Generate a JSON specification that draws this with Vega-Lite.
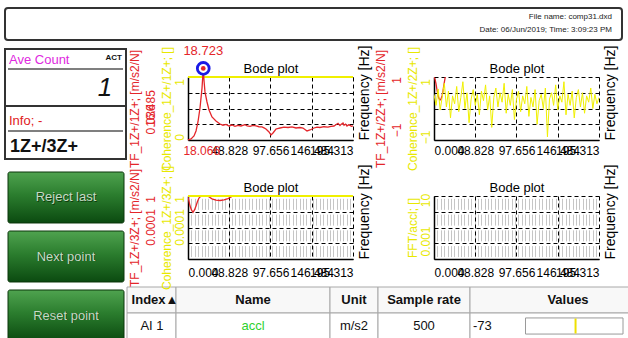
{
"$schema":"https://vega.github.io/schema/vega-lite/v6.json",
"background":"#ffffff",
"padding":{"left":4,"top":7,"right":0,"bottom":0},
"config":{
  "font":"Liberation Sans",
  "view":{"stroke":null},
  "axis":{"labelFont":"Liberation Sans Narrow, Arial Narrow, Liberation Sans, sans-serif","labelFontSize":12,"titleFont":"Liberation Sans, Arial, sans-serif","titleFontSize":12,"titleFontWeight":"normal","ticks":false,"labelOverlap":false,"labelColor":"#000000","titleColor":"#000000"}
},
"datasets":{
  "fileinfo":[{"row":1,"line":"File name: comp31.dxd"},{"row":2,"line":"Date: 06/Jun/2019; Time: 3:09:23 PM"}],
  "panels":[{"panel":"header"},{"panel":"count","label":"Ave Count","status":"ACT","value":"1"},{"panel":"info","label":"Info; -","value":"1Z+/3Z+"}],
  "buttons":[{"label":"Reject last"},{"label":"Next point"},{"label":"Reset point"}],
  "cells":[
    {"col":"Index","row":"header","text":"Index▲"},{"col":"Index","row":"value","text":"AI 1"},
    {"col":"Name","row":"header","text":"Name"},{"col":"Name","row":"value","text":"accl"},
    {"col":"Unit","row":"header","text":"Unit"},{"col":"Unit","row":"value","text":"m/s2"},
    {"col":"Sample rate","row":"header","text":"Sample rate"},{"col":"Sample rate","row":"value","text":"500"},
    {"col":"Values","row":"header","text":"Values"},{"col":"Values","row":"value","text":"-73","reading":-73}
  ],
  "tl_tf":[
    {"f":0,"v":0.04},{"f":3.55,"v":0.3},{"f":7.1,"v":1.08},{"f":9.5,"v":2.39},{"f":11.8,"v":4.74},{"f":14.2,"v":8.39},{"f":15.4,"v":11.0},{"f":16.6,"v":13.6},{"f":18.066,"v":18.723},{"f":18.9,"v":15.7},{"f":20.1,"v":12.6},{"f":22.5,"v":9.96},{"f":24.9,"v":7.87},{"f":28.4,"v":6.04},{"f":33.1,"v":5.0},{"f":37.9,"v":4.21},{"f":41.4,"v":3.9},{"f":45.0,"v":4.1},{"f":48.5,"v":3.7},{"f":52.1,"v":3.95},{"f":55.6,"v":3.6},{"f":59.2,"v":3.85},{"f":62.7,"v":3.7},{"f":67.5,"v":4.05},{"f":70.0,"v":3.75},{"f":73.4,"v":3.6},{"f":77.0,"v":3.85},{"f":80.5,"v":3.7},{"f":84.0,"v":3.5},{"f":87.6,"v":3.45},{"f":90.0,"v":3.2},{"f":92.3,"v":2.91},{"f":95.9,"v":2.12},{"f":98.2,"v":1.34},{"f":100.6,"v":1.86},{"f":104.2,"v":2.91},{"f":108.9,"v":3.17},{"f":113.6,"v":3.4},{"f":118.4,"v":3.3},{"f":123.1,"v":3.45},{"f":127.8,"v":3.17},{"f":132.5,"v":3.3},{"f":136.1,"v":3.17},{"f":140.9,"v":2.39},{"f":144.4,"v":2.65},{"f":149.1,"v":3.17},{"f":152.7,"v":3.4},{"f":156.2,"v":3.3},{"f":160.9,"v":3.5},{"f":165.7,"v":3.4},{"f":169.2,"v":3.6},{"f":172.8,"v":3.69},{"f":175.1,"v":4.0},{"f":177.6,"v":4.4},{"f":179.9,"v":3.8},{"f":181.1,"v":4.1},{"f":183.5,"v":4.5},{"f":184.7,"v":3.9},{"f":186.6,"v":4.2},{"f":188.2,"v":3.69},{"f":190.0,"v":4.0},{"f":191.8,"v":3.85},{"f":193.5,"v":3.6},{"f":195.313,"v":3.75}
  ],
  "tl_cursor":[{"f":18.066,"v":18.723}],
  "tl_coh":[{"f":0,"c":1},{"f":195.313,"c":1}],
  "tr_tf":[{"f":0,"v":1.0},{"f":1.2,"v":0.93},{"f":2.4,"v":0.78},{"f":3.6,"v":0.58},{"f":4.7,"v":0.42},{"f":5.9,"v":0.32},{"f":7.1,"v":0.27},{"f":8.3,"v":0.3},{"f":9.5,"v":0.4},{"f":10.7,"v":0.56},{"f":11.8,"v":0.77},{"f":13.0,"v":0.95},{"f":14.2,"v":1.15}],
  "tr_coh":[
    {"f":0,"c":0.45},{"f":2.44,"c":0.1},{"f":4.88,"c":0.62},{"f":7.32,"c":-0.05},{"f":9.77,"c":0.38},{"f":12.21,"c":0.8},{"f":14.65,"c":0.05},{"f":17.09,"c":0.55},{"f":19.53,"c":-0.3},{"f":21.97,"c":0.4},
    {"f":24.41,"c":0.15},{"f":26.86,"c":0.7},{"f":29.3,"c":-0.1},{"f":31.74,"c":0.35},{"f":34.18,"c":0.85},{"f":36.62,"c":0.0},{"f":39.06,"c":0.5},{"f":41.5,"c":-0.45},{"f":43.95,"c":0.3},{"f":46.39,"c":0.6},
    {"f":48.83,"c":0.1},{"f":51.27,"c":0.45},{"f":53.71,"c":-0.2},{"f":56.15,"c":0.55},{"f":58.59,"c":0.25},{"f":61.04,"c":0.75},{"f":63.48,"c":-0.05},{"f":65.92,"c":0.4},{"f":68.36,"c":-0.6},{"f":70.8,"c":0.35},
    {"f":73.24,"c":0.65},{"f":75.68,"c":0.05},{"f":78.13,"c":0.5},{"f":80.57,"c":0.2},{"f":83.01,"c":0.8},{"f":85.45,"c":-0.15},{"f":87.89,"c":0.45},{"f":90.33,"c":0.1},{"f":92.77,"c":0.6},{"f":95.21,"c":-0.35},
    {"f":97.66,"c":0.3},{"f":100.1,"c":0.55},{"f":102.54,"c":-0.1},{"f":104.98,"c":0.4},{"f":107.42,"c":0.15},{"f":109.86,"c":0.7},{"f":112.3,"c":-0.25},{"f":114.75,"c":0.35},{"f":117.19,"c":0.05},{"f":119.63,"c":0.6},
    {"f":122.07,"c":-0.5},{"f":124.51,"c":0.25},{"f":126.95,"c":0.45},{"f":129.39,"c":0.0},{"f":131.84,"c":0.65},{"f":134.28,"c":-0.9},{"f":136.72,"c":0.3},{"f":139.16,"c":0.5},{"f":141.6,"c":0.1},{"f":144.04,"c":0.75},
    {"f":146.48,"c":-0.05},{"f":148.93,"c":0.4},{"f":151.37,"c":0.2},{"f":153.81,"c":0.85},{"f":156.25,"c":-0.2},{"f":158.69,"c":0.45},{"f":161.13,"c":0.1},{"f":163.57,"c":0.55},{"f":166.02,"c":-0.3},{"f":168.46,"c":0.35},
    {"f":170.9,"c":0.6},{"f":173.34,"c":0.05},{"f":175.78,"c":0.5},{"f":178.22,"c":-0.15},{"f":180.66,"c":0.4},{"f":183.11,"c":0.2},{"f":185.55,"c":0.65},{"f":187.99,"c":0.0},{"f":190.43,"c":0.45},{"f":192.87,"c":0.15},{"f":195.31,"c":0.35}
  ],
  "bl_tf":[{"f":0,"v":0.85},{"f":1.2,"v":0.45},{"f":2.4,"v":0.23},{"f":4.1,"v":0.13},{"f":5.9,"v":0.093},{"f":7.7,"v":0.13},{"f":9.5,"v":0.23},{"f":11.2,"v":0.45},{"f":13.0,"v":0.74},{"f":15.4,"v":0.98},{"f":20.0,"v":1.0},{"f":23.7,"v":0.97},{"f":26.0,"v":0.8},{"f":28.4,"v":0.66},{"f":33.1,"v":0.55},{"f":37.9,"v":0.52},{"f":42.6,"v":0.56},{"f":47.3,"v":0.68},{"f":51.0,"v":0.86},{"f":53.3,"v":1.0}],
  "bl_coh":[{"f":0,"c":1},{"f":195.313,"c":1}],
  "br_fft":[]
},
"bounds":"flush",
"align":"each",
"columns":3,
"spacing":{"row":56,"column":81},
"concat":[
  {"width":102,"height":63,
   "layer":[
    {"data":{"name":"panels"},"transform":[{"filter":"datum.panel == 'header'"}],"mark":{"type":"rect","fill":"#ffffff","fillOpacity":0,"stroke":"#333333","strokeWidth":2,"cornerRadius":3},"encoding":{"x":{"value":0},"x2":{"value":617},"y":{"value":-69},"y2":{"value":-37}}},
    {"data":{"name":"fileinfo"},"mark":{"type":"text","align":"right","baseline":"middle","fontSize":8,"color":"#222222"},"encoding":{"x":{"value":607},"y":{"field":"row","type":"ordinal","axis":null,"scale":{"type":"point","range":[-60,-47],"padding":0}},"text":{"field":"line"}}},
    {"data":{"name":"panels"},"transform":[{"filter":"datum.panel == 'count'"}],
     "layer":[
      {"mark":{"type":"rect","fill":"#ffffff","fillOpacity":0,"stroke":"#333333","strokeWidth":2},"encoding":{"x":{"value":0},"x2":{"value":121},"y":{"value":-28},"y2":{"value":29}}},
      {"mark":{"type":"text","align":"left","baseline":"middle","font":"Liberation Sans Narrow, Arial Narrow, Liberation Sans, sans-serif","fontSize":13,"color":"#e028e0"},"encoding":{"x":{"value":4},"y":{"value":-17},"text":{"field":"label"}}},
      {"mark":{"type":"text","align":"right","baseline":"middle","fontSize":8,"fontWeight":"bold","color":"#111111"},"encoding":{"x":{"value":117},"y":{"value":-19},"text":{"field":"status"}}},
      {"mark":{"type":"rule","color":"#555555","strokeWidth":1.5},"encoding":{"x":{"value":3},"x2":{"value":118},"y":{"value":-8}}},
      {"mark":{"type":"text","align":"center","baseline":"middle","font":"Liberation Sans Narrow, Arial Narrow, Liberation Sans, sans-serif","fontSize":26,"fontStyle":"italic","color":"#111111"},"encoding":{"x":{"value":100},"y":{"value":11},"text":{"field":"value"}}}
     ]},
    {"data":{"name":"panels"},"transform":[{"filter":"datum.panel == 'info'"}],
     "layer":[
      {"mark":{"type":"rect","fill":"#ffffff","fillOpacity":0,"stroke":"#333333","strokeWidth":2},"encoding":{"x":{"value":0},"x2":{"value":121},"y":{"value":29},"y2":{"value":82}}},
      {"mark":{"type":"text","align":"left","baseline":"middle","font":"Liberation Sans Narrow, Arial Narrow, Liberation Sans, sans-serif","fontSize":13,"color":"#e02020"},"encoding":{"x":{"value":4},"y":{"value":44},"text":{"field":"label"}}},
      {"mark":{"type":"rule","color":"#555555","strokeWidth":1.5},"encoding":{"x":{"value":3},"x2":{"value":118},"y":{"value":54}}},
      {"mark":{"type":"text","align":"left","baseline":"middle","font":"Liberation Sans Narrow, Arial Narrow, Liberation Sans, sans-serif","fontSize":18,"fontWeight":"bold","color":"#111111"},"encoding":{"x":{"value":5},"y":{"value":70},"text":{"field":"value"}}}
     ]},
    {"data":{"name":"buttons"},
     "layer":[
      {"mark":{"type":"rect","fill":{"gradient":"linear","x1":0,"y1":0,"x2":0,"y2":1,"stops":[{"offset":0,"color":"#4fa34f"},{"offset":0.45,"color":"#2b7d2e"},{"offset":1,"color":"#0b4a10"}]},"stroke":"#0a360a","strokeWidth":1,"cornerRadius":2},
       "encoding":{"x":{"value":3},"x2":{"value":119},"y":{"field":"label","type":"nominal","axis":null,"scale":{"domain":["Reject last","Next point","Reset point"],"range":[95,264],"paddingInner":0.1356,"paddingOuter":0}}}},
      {"mark":{"type":"text","align":"center","baseline":"middle","font":"Liberation Sans Narrow, Arial Narrow, Liberation Sans, sans-serif","fontSize":13,"color":"#0d3d0d","dx":0.8,"dy":0.8},"encoding":{"x":{"value":61},"y":{"field":"label","type":"nominal","axis":null},"text":{"field":"label"}}},
      {"mark":{"type":"text","align":"center","baseline":"middle","font":"Liberation Sans Narrow, Arial Narrow, Liberation Sans, sans-serif","fontSize":13,"color":"#c6dac6"},"encoding":{"x":{"value":61},"y":{"field":"label","type":"nominal","axis":null},"text":{"field":"label"}}}
     ]}
   ],
   "resolve":{"scale":{"y":"independent"}}},
  {"width":165,"height":63,
   "layer":[
    {"data":{"name":"br_fft"},"mark":{"type":"line"},
     "encoding":{"x":{"field":"f","type":"quantitative","scale":{"domain":[0,195.313],"nice":false,"zero":false},"axis":{"orient":"top","title":"Bode plot","labels":false,"domain":false,"grid":false,"titlePadding":2,"titleFont":"Liberation Sans Narrow, Arial Narrow, Liberation Sans, sans-serif","titleFontSize":13}},
                 "y":{"field":"v","type":"quantitative","axis":null}}},
    {"data":{"name":"tl_coh"},"mark":{"type":"line","color":"#f0f000","strokeWidth":2,"clip":false},
     "encoding":{
      "x":{"field":"f","type":"quantitative","scale":{"domain":[0,195.313],"nice":false,"zero":false},
           "axis":{"orient":"bottom","title":"Frequency [Hz]","values":[0,48.828,97.656,146.484,195.313],"format":".3f","labelExpr":"datum.value == 0 ? '' : datum.label","labelFlush":true,"grid":true,"gridColor":"#000000","gridDash":[4,3],"gridWidth":1,"domain":true,"domainColor":"#000000","domainWidth":1.5,"labelPadding":5,"titleFontSize":14,"titleAngle":270,"titleAlign":"left","titleBaseline":"middle","titleX":176,"titleY":0}},
      "y":{"field":"c","type":"quantitative","scale":{"domain":[0,1],"nice":false,"zero":false},
           "axis":{"title":"Coherence_1Z+/1Z+; []","orient":"left","values":[0,0.25,0.5,0.75,1],"format":"~g","labelExpr":"datum.value == 0 || datum.value == 1 ? datum.label : ''","grid":true,"gridColor":"#000000","gridDash":[4,3],"gridWidth":1,"domain":true,"domainColor":"#000000","domainWidth":1.5,"labelAngle":270,"labelAlign":"center","labelBaseline":"bottom","labelPadding":2,"labelColor":"#e8e800","labelOffset":{"condition":{"test":"datum.value == 0","value":-3},"value":5},"titleColor":"#e8e800","titlePadding":0}}}},
    {"layer":[
      {"data":{"name":"tl_tf"},"mark":{"type":"line","color":"#e4252a","strokeWidth":1.3,"clip":false},
       "encoding":{
        "x":{"field":"f","type":"quantitative","scale":{"domain":[0,195.313],"nice":false,"zero":false},
             "axis":{"orient":"bottom","values":[18.066],"format":".3f","labelColor":"#e4252a","labelPadding":5,"labelOffset":-2,"labelFlush":false,"domain":false,"grid":false,"title":null}},
        "y":{"field":"v","type":"quantitative","scale":{"domain":[0.036,16.485],"nice":false,"zero":false},
             "axis":{"title":"TF_1Z+/1Z+; [m/s2/N]","orient":"left","offset":29,"values":[0.036,16.485],"format":".3f","domain":false,"grid":false,"labelAngle":270,"labelAlign":"center","labelBaseline":"bottom","labelPadding":2,"labelColor":"#e4252a","labelOffset":{"condition":{"test":"datum.value < 1","value":-21},"value":31},"titleColor":"#e4252a","titlePadding":3}}}},
      {"data":{"name":"tl_cursor"},"mark":{"type":"point","shape":"circle","size":140,"filled":true,"fill":"#ffffff","stroke":"#1a1ae6","strokeWidth":2.8,"opacity":1,"clip":false},
       "encoding":{"x":{"field":"f","type":"quantitative","scale":{"domain":[0,195.313],"nice":false,"zero":false}},"y":{"field":"v","type":"quantitative","scale":{"domain":[0.036,16.485],"nice":false,"zero":false}}}},
      {"data":{"name":"tl_cursor"},"mark":{"type":"circle","size":22,"color":"#e4252a","opacity":1,"clip":false},
       "encoding":{"x":{"field":"f","type":"quantitative","scale":{"domain":[0,195.313],"nice":false,"zero":false}},"y":{"field":"v","type":"quantitative","scale":{"domain":[0.036,16.485],"nice":false,"zero":false}}}},
      {"data":{"name":"tl_cursor"},"mark":{"type":"text","dy":-17,"baseline":"middle","color":"#e4252a","font":"Liberation Sans Narrow, Arial Narrow, Liberation Sans, sans-serif","fontSize":13,"clip":false},
       "encoding":{"x":{"field":"f","type":"quantitative","scale":{"domain":[0,195.313],"nice":false,"zero":false}},"y":{"field":"v","type":"quantitative","scale":{"domain":[0.036,16.485],"nice":false,"zero":false}},"text":{"field":"v","type":"quantitative","format":".3f"}}}
    ]}
   ],
   "resolve":{"scale":{"y":"independent"},"axis":{"x":"independent","y":"independent"}}},
  {"width":165,"height":63,
   "layer":[
    {"data":{"name":"tr_tf"},"mark":{"type":"line","color":"#e4252a","strokeWidth":1.3,"clip":true},
     "encoding":{
      "x":{"field":"f","type":"quantitative","scale":{"domain":[0,195.313],"nice":false,"zero":false},"axis":{"orient":"top","title":"Bode plot","labels":false,"domain":false,"grid":false,"titlePadding":2,"titleFont":"Liberation Sans Narrow, Arial Narrow, Liberation Sans, sans-serif","titleFontSize":13}},
      "y":{"field":"v","type":"quantitative","scale":{"domain":[-1,1],"nice":false,"zero":false},
           "axis":{"title":"TF_1Z+/2Z+; [m/s2/N]","orient":"left","offset":29,"values":[-1,1],"format":"~g","domain":false,"grid":false,"labelAngle":270,"labelAlign":"center","labelBaseline":"bottom","labelPadding":2,"labelColor":"#e4252a","labelOffset":{"condition":{"test":"datum.value > 0","value":3},"value":-10},"titleColor":"#e4252a","titlePadding":3}}}},
    {"data":{"name":"tr_coh"},"mark":{"type":"line","color":"#f0f000","strokeWidth":1,"clip":true},
     "encoding":{
      "x":{"field":"f","type":"quantitative","scale":{"domain":[0,195.313],"nice":false,"zero":false},
           "axis":{"orient":"bottom","title":"Frequency [Hz]","values":[0,48.828,97.656,146.484,195.313],"format":".3f","labelFlush":true,"grid":true,"gridColor":"#000000","gridDash":[4,3],"gridWidth":1,"domain":true,"domainColor":"#000000","domainWidth":1.5,"labelPadding":5,"titleFontSize":14,"titleAngle":270,"titleAlign":"left","titleBaseline":"middle","titleX":176,"titleY":0}},
      "y":{"field":"c","type":"quantitative","scale":{"domain":[-1,1],"nice":false,"zero":false},
           "axis":{"title":"Coherence_1Z+/2Z+; []","orient":"left","values":[-1,-0.5,0,0.5,1],"format":"~g","labelExpr":"abs(datum.value) == 1 ? datum.label : ''","grid":true,"gridColor":"#000000","gridDash":[4,3],"gridWidth":1,"domain":true,"domainColor":"#000000","domainWidth":1.5,"labelAngle":270,"labelAlign":"center","labelBaseline":"bottom","labelPadding":2,"labelColor":"#e8e800","labelOffset":{"condition":{"test":"datum.value > 0","value":5},"value":-3},"titleColor":"#e8e800","titlePadding":0}}}}
   ],
   "resolve":{"scale":{"y":"independent"},"axis":{"x":"independent","y":"independent"}}},
  {"width":102,"height":63,
   "data":{"name":"cells"},
   "layer":[
    {"transform":[{"filter":"datum.col == 'Index'"}],"mark":{"type":"rect","stroke":"#a8a8a8","strokeWidth":1},"encoding":{"x":{"value":122},"x2":{"value":171},"y":{"field":"row","type":"nominal","axis":null,"scale":{"domain":["header","value"],"range":[91,143],"paddingInner":0,"paddingOuter":0}},"fill":{"condition":{"test":"datum.row == 'header'","value":"#f8f8f8"},"value":"#ffffff"}}},
    {"transform":[{"filter":"datum.col == 'Name'"}],"mark":{"type":"rect","stroke":"#a8a8a8","strokeWidth":1},"encoding":{"x":{"value":171},"x2":{"value":325},"y":{"field":"row","type":"nominal"},"fill":{"condition":{"test":"datum.row == 'header'","value":"#f8f8f8"},"value":"#ffffff"}}},
    {"transform":[{"filter":"datum.col == 'Unit'"}],"mark":{"type":"rect","stroke":"#a8a8a8","strokeWidth":1},"encoding":{"x":{"value":325},"x2":{"value":373},"y":{"field":"row","type":"nominal"},"fill":{"condition":{"test":"datum.row == 'header'","value":"#f8f8f8"},"value":"#ffffff"}}},
    {"transform":[{"filter":"datum.col == 'Sample rate'"}],"mark":{"type":"rect","stroke":"#a8a8a8","strokeWidth":1},"encoding":{"x":{"value":373},"x2":{"value":465},"y":{"field":"row","type":"nominal"},"fill":{"condition":{"test":"datum.row == 'header'","value":"#f8f8f8"},"value":"#ffffff"}}},
    {"transform":[{"filter":"datum.col == 'Values'"}],"mark":{"type":"rect","stroke":"#a8a8a8","strokeWidth":1},"encoding":{"x":{"value":465},"x2":{"value":655},"y":{"field":"row","type":"nominal"},"fill":{"condition":{"test":"datum.row == 'header'","value":"#f8f8f8"},"value":"#ffffff"}}},
    {"transform":[{"filter":"datum.col == 'Index' && datum.row == 'header'"}],"mark":{"type":"text","align":"center","baseline":"middle","font":"Liberation Sans Narrow, Arial Narrow, Liberation Sans, sans-serif","fontSize":13,"fontWeight":"bold","color":"#111111"},"encoding":{"x":{"value":150},"y":{"field":"row","type":"nominal"},"text":{"field":"text"}}},
    {"transform":[{"filter":"datum.col == 'Index' && datum.row == 'value'"}],"mark":{"type":"text","align":"center","baseline":"middle","font":"Liberation Sans Narrow, Arial Narrow, Liberation Sans, sans-serif","fontSize":13,"color":"#111111"},"encoding":{"x":{"value":147},"y":{"field":"row","type":"nominal"},"text":{"field":"text"}}},
    {"transform":[{"filter":"datum.col == 'Name' && datum.row == 'header'"}],"mark":{"type":"text","align":"center","baseline":"middle","font":"Liberation Sans Narrow, Arial Narrow, Liberation Sans, sans-serif","fontSize":13,"fontWeight":"bold","color":"#111111"},"encoding":{"x":{"value":248},"y":{"field":"row","type":"nominal"},"text":{"field":"text"}}},
    {"transform":[{"filter":"datum.col == 'Name' && datum.row == 'value'"}],"mark":{"type":"text","align":"center","baseline":"middle","font":"Liberation Sans Narrow, Arial Narrow, Liberation Sans, sans-serif","fontSize":13,"color":"#2ed12e"},"encoding":{"x":{"value":248},"y":{"field":"row","type":"nominal"},"text":{"field":"text"}}},
    {"transform":[{"filter":"datum.col == 'Unit' && datum.row == 'header'"}],"mark":{"type":"text","align":"center","baseline":"middle","font":"Liberation Sans Narrow, Arial Narrow, Liberation Sans, sans-serif","fontSize":13,"fontWeight":"bold","color":"#111111"},"encoding":{"x":{"value":349},"y":{"field":"row","type":"nominal"},"text":{"field":"text"}}},
    {"transform":[{"filter":"datum.col == 'Unit' && datum.row == 'value'"}],"mark":{"type":"text","align":"center","baseline":"middle","font":"Liberation Sans Narrow, Arial Narrow, Liberation Sans, sans-serif","fontSize":13,"color":"#111111"},"encoding":{"x":{"value":349},"y":{"field":"row","type":"nominal"},"text":{"field":"text"}}},
    {"transform":[{"filter":"datum.col == 'Sample rate' && datum.row == 'header'"}],"mark":{"type":"text","align":"center","baseline":"middle","font":"Liberation Sans Narrow, Arial Narrow, Liberation Sans, sans-serif","fontSize":13,"fontWeight":"bold","color":"#111111"},"encoding":{"x":{"value":419},"y":{"field":"row","type":"nominal"},"text":{"field":"text"}}},
    {"transform":[{"filter":"datum.col == 'Sample rate' && datum.row == 'value'"}],"mark":{"type":"text","align":"center","baseline":"middle","font":"Liberation Sans Narrow, Arial Narrow, Liberation Sans, sans-serif","fontSize":13,"color":"#111111"},"encoding":{"x":{"value":419},"y":{"field":"row","type":"nominal"},"text":{"field":"text"}}},
    {"transform":[{"filter":"datum.col == 'Values' && datum.row == 'header'"}],"mark":{"type":"text","align":"center","baseline":"middle","font":"Liberation Sans Narrow, Arial Narrow, Liberation Sans, sans-serif","fontSize":13,"fontWeight":"bold","color":"#111111"},"encoding":{"x":{"value":563},"y":{"field":"row","type":"nominal"},"text":{"field":"text"}}},
    {"transform":[{"filter":"datum.col == 'Values' && datum.row == 'value'"}],"mark":{"type":"text","align":"left","baseline":"middle","font":"Liberation Sans Narrow, Arial Narrow, Liberation Sans, sans-serif","fontSize":13,"color":"#111111"},"encoding":{"x":{"value":468},"y":{"field":"row","type":"nominal"},"text":{"field":"text"}}},
    {"transform":[{"filter":"datum.col == 'Values' && datum.row == 'value'"}],"mark":{"type":"bar","height":{"band":0.62},"fill":"#ffffff","stroke":"#9a9a9a","strokeWidth":1},"encoding":{"x":{"datum":-150,"type":"quantitative","scale":{"domain":[-150,0],"range":[514,618]},"axis":null},"x2":{"datum":0},"y":{"field":"row","type":"nominal"}}},
    {"transform":[{"filter":"datum.col == 'Values' && datum.row == 'value'"}],"mark":{"type":"tick","orient":"vertical","color":"#eee000","thickness":2,"size":15,"opacity":1},"encoding":{"x":{"field":"reading","type":"quantitative"},"y":{"field":"row","type":"nominal"}}}
   ]},
  {"width":165,"height":63,
   "layer":[
    {"data":{"name":"br_fft"},"mark":{"type":"line"},
     "encoding":{"x":{"field":"f","type":"quantitative","scale":{"domain":[0,195.313],"nice":false,"zero":false},"axis":{"orient":"top","title":"Bode plot","labels":false,"domain":false,"grid":false,"titlePadding":2,"titleFont":"Liberation Sans Narrow, Arial Narrow, Liberation Sans, sans-serif","titleFontSize":13}},
                 "y":{"field":"v","type":"quantitative","axis":null}}},
    {"data":{"name":"bl_tf"},"mark":{"type":"line","color":"#e4252a","strokeWidth":1.3,"clip":true},
     "encoding":{
      "x":{"field":"f","type":"quantitative","scale":{"domain":[0,195.313],"nice":false,"zero":false},
           "axis":{"orient":"bottom","values":[0,4,8,12,16,20,24,28,32,36,40,44,48,52,56,60,64,68,72,76,80,84,88,92,96,100,104,108,112,116,120,124,128,132,136,140,144,148,152,156,160,164,168,172,176,180,184,188,192],"grid":true,"gridColor":"#c6c6c6","gridDash":[11,4.75],"gridDashOffset":13.4,"gridWidth":1,"labels":false,"domain":false,"title":null}},
      "y":{"field":"v","type":"quantitative","scale":{"type":"log","domain":[0.0001,1],"nice":false},
           "axis":{"title":"TF_1Z+/3Z+; [m/s2/N]","orient":"left","offset":29,"values":[0.0001,1],"format":"~g","domain":false,"grid":false,"labelAngle":270,"labelAlign":"center","labelBaseline":"bottom","labelPadding":2,"labelColor":"#e4252a","labelOffset":{"condition":{"test":"datum.value >= 1","value":3},"value":-32},"titleColor":"#e4252a","titlePadding":3}}}},
    {"data":{"name":"bl_coh"},"mark":{"type":"line","color":"#f0f000","strokeWidth":2,"clip":false},
     "encoding":{
      "x":{"field":"f","type":"quantitative","scale":{"domain":[0,195.313],"nice":false,"zero":false},
           "axis":{"orient":"bottom","title":"Frequency [Hz]","values":[0,48.828,97.656,146.484,195.313],"format":".3f","labelFlush":true,"grid":true,"gridColor":"#000000","gridDash":[4,3],"gridWidth":1,"domain":true,"domainColor":"#000000","domainWidth":1.5,"labelPadding":8,"titleFontSize":14,"titleAngle":270,"titleAlign":"left","titleBaseline":"middle","titleX":176,"titleY":0}},
      "y":{"field":"c","type":"quantitative","scale":{"type":"log","domain":[0.0001,1],"nice":false},
           "axis":{"title":"Coherence_1Z+/3Z+; []","orient":"left","values":[0.0001,0.001,0.01,0.1,1],"format":"~g","labelExpr":"datum.value == 0.0001 || datum.value == 1 ? datum.label : ''","grid":true,"gridColor":"#000000","gridDash":[4,3],"gridWidth":1,"domain":true,"domainColor":"#000000","domainWidth":1.5,"labelAngle":270,"labelAlign":"center","labelBaseline":"bottom","labelPadding":2,"labelColor":"#e8e800","labelOffset":{"condition":{"test":"datum.value >= 1","value":3},"value":-32},"titleColor":"#e8e800","titlePadding":0}}}}
   ],
   "resolve":{"scale":{"y":"independent"},"axis":{"x":"independent","y":"independent"}}},
  {"width":165,"height":63,
   "layer":[
    {"data":{"name":"br_fft"},"mark":{"type":"line"},
     "encoding":{"x":{"field":"f","type":"quantitative","scale":{"domain":[0,195.313],"nice":false,"zero":false},"axis":{"orient":"top","title":"Bode plot","labels":false,"domain":false,"grid":false,"titlePadding":2,"titleFont":"Liberation Sans Narrow, Arial Narrow, Liberation Sans, sans-serif","titleFontSize":13}},
                 "y":{"field":"v","type":"quantitative","axis":null}}},
    {"data":{"name":"br_fft"},"mark":{"type":"line","color":"#f0f000","strokeWidth":1},
     "encoding":{
      "x":{"field":"f","type":"quantitative","scale":{"domain":[0,195.313],"nice":false,"zero":false},
           "axis":{"orient":"bottom","values":[0,4,8,12,16,20,24,28,32,36,40,44,48,52,56,60,64,68,72,76,80,84,88,92,96,100,104,108,112,116,120,124,128,132,136,140,144,148,152,156,160,164,168,172,176,180,184,188,192],"grid":true,"gridColor":"#c6c6c6","gridDash":[11,4.75],"gridDashOffset":13.4,"gridWidth":1,"labels":false,"domain":false,"title":null}},
      "y":{"field":"v","type":"quantitative","scale":{"domain":[0,1],"nice":false,"zero":false},"axis":null}}},
    {"data":{"name":"br_fft"},"mark":{"type":"line","color":"#f0f000","strokeWidth":1.5,"clip":true},
     "encoding":{
      "x":{"field":"f","type":"quantitative","scale":{"domain":[0,195.313],"nice":false,"zero":false},
           "axis":{"orient":"bottom","title":"Frequency [Hz]","values":[0,48.828,97.656,146.484,195.313],"format":".3f","labelFlush":true,"grid":true,"gridColor":"#000000","gridDash":[4,3],"gridWidth":1,"domain":true,"domainColor":"#000000","domainWidth":1.5,"labelPadding":8,"titleFontSize":14,"titleAngle":270,"titleAlign":"left","titleBaseline":"middle","titleX":176,"titleY":0}},
      "y":{"field":"v","type":"quantitative","scale":{"type":"log","domain":[0.001,10],"nice":false},
           "axis":{"title":"FFT/accl; []","orient":"left","values":[0.001,0.01,0.1,1,10],"format":"~g","labelExpr":"datum.value == 0.001 || datum.value == 10 ? datum.label : ''","grid":true,"gridColor":"#000000","gridDash":[4,3],"gridWidth":1,"domain":true,"domainColor":"#000000","domainWidth":1.5,"labelAngle":270,"labelAlign":"center","labelBaseline":"bottom","labelPadding":2,"labelColor":"#e8e800","labelOffset":{"condition":{"test":"datum.value >= 10","value":4},"value":-18},"titleColor":"#e8e800","titlePadding":0}}}}
   ],
   "resolve":{"scale":{"y":"independent"},"axis":{"x":"independent","y":"independent"}}}
]
}
